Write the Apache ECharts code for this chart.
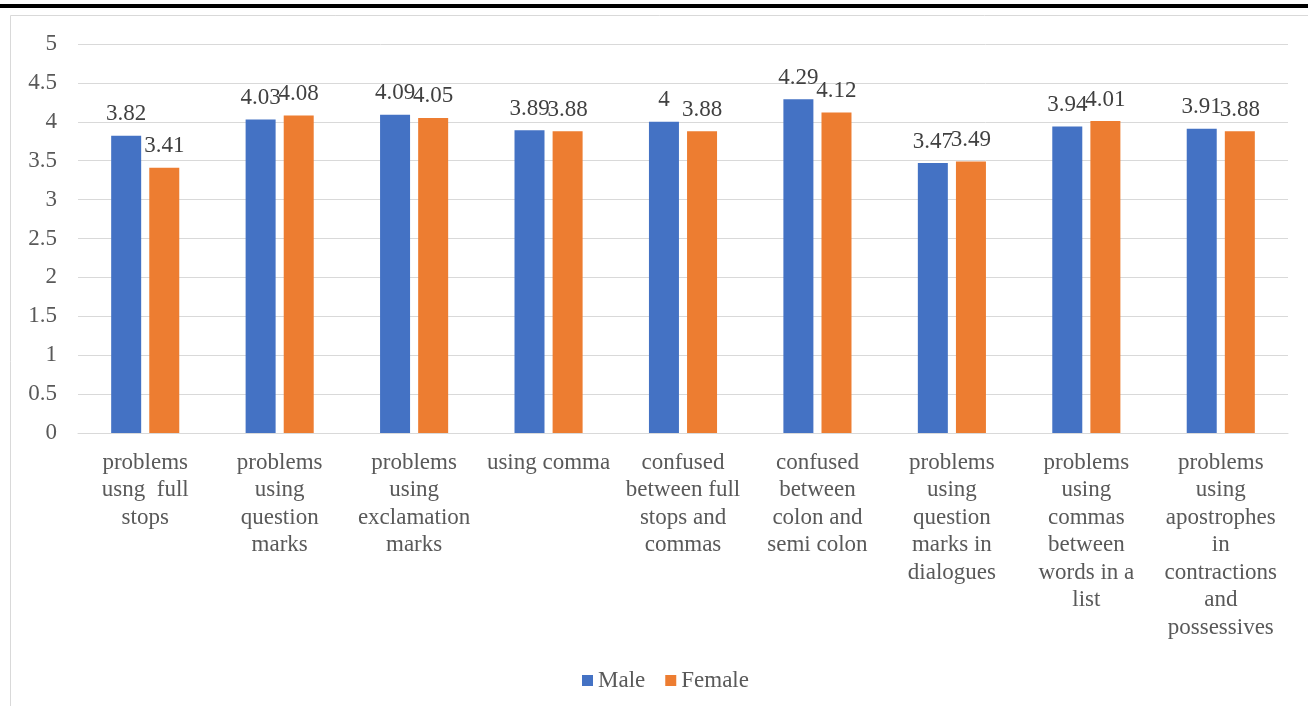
<!DOCTYPE html>
<html><head><meta charset="utf-8">
<script src="https://cdn.jsdelivr.net/npm/echarts@6/dist/echarts.min.js"></script>
<style>html,body{margin:0;padding:0;background:#fff}#c{width:1308px;height:706px}</style>
</head><body><div id="c"></div>
<script>
const categories = [
  "problems\nusng  full\nstops",
  "problems\nusing\nquestion\nmarks",
  "problems\nusing\nexclamation\nmarks",
  "using comma",
  "confused\nbetween full\nstops and\ncommas",
  "confused\nbetween\ncolon and\nsemi colon",
  "problems\nusing\nquestion\nmarks in\ndialogues",
  "problems\nusing\ncommas\nbetween\nwords in a\nlist",
  "problems\nusing\napostrophes\nin\ncontractions\nand\npossessives"
];
const male = [3.82, 4.03, 4.09, 3.89, 4, 4.29, 3.47, 3.94, 3.91];
const female = [3.41, 4.08, 4.05, 3.88, 3.88, 4.12, 3.49, 4.01, 3.88];
const yTicks = [0, 0.5, 1, 1.5, 2, 2.5, 3, 3.5, 4, 4.5, 5];

const font = '"Liberation Serif", "Times New Roman", serif';
const fs = 23;
const chart = echarts.init(document.getElementById('c'));
const labelCfg = {show: true, position: 'top', distance: 10, color: '#404040', fontFamily: font, fontSize: fs};
chart.setOption({
  animation: false,
  textStyle: {fontFamily: font},
  graphic: [
    {type: 'rect', shape: {x: 0, y: 4, width: 1308, height: 4}, style: {fill: '#000'}},
    {type: 'rect', shape: {x: 10.5, y: 15.5, width: 1320, height: 720}, style: {fill: 'none', stroke: '#d9d9d9', lineWidth: 1}}
  ],
  grid: {left: 78, right: 20, top: 44, bottom: 273, containLabel: false},
  legend: {
    data: ['Male', 'Female'], top: 664, left: 577, itemWidth: 11, itemHeight: 11, itemGap: 20,
    icon: 'rect',
    textStyle: {fontFamily: font, fontSize: fs, color: '#595959'}
  },
  xAxis: {
    type: 'category', data: categories,
    axisLine: {lineStyle: {color: '#d9d9d9', width: 1}},
    axisTick: {show: false},
    axisLabel: {interval: 0, color: '#595959', fontFamily: font, fontSize: fs, lineHeight: 27.5, margin: 16}
  },
  yAxis: {
    type: 'value', min: 0, max: 5, interval: 0.5,
    axisLine: {show: false}, axisTick: {show: false},
    splitLine: {lineStyle: {color: '#d9d9d9', width: 1}},
    axisLabel: {color: '#595959', fontFamily: font, fontSize: fs, margin: 21,
      formatter: v => yTicks.includes(v) ? String(v) : ''}
  },
  series: [
    {name: 'Male', type: 'bar', data: male, barWidth: 30, barGap: '27%', itemStyle: {color: '#4472c4'}, label: labelCfg},
    {name: 'Female', type: 'bar', data: female, barWidth: 30, itemStyle: {color: '#ed7d31'}, label: labelCfg}
  ]
});
</script></body></html>
